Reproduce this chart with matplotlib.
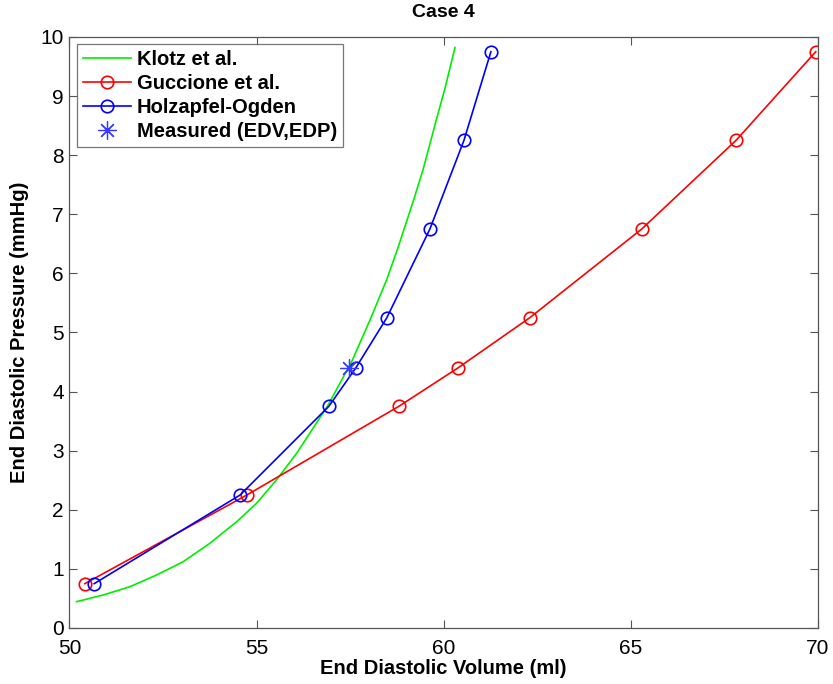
import matplotlib.pyplot as plt
import numpy as np

# Klotz et al. curve
klotz_v = [50.19, 50.90, 51.62, 52.33, 53.04, 53.75, 54.47, 55.00, 55.53, 56.07,
           56.90, 57.55, 58.03, 58.48, 58.77, 59.17, 59.45, 59.82, 60.03, 60.30]
klotz_p = [0.445, 0.558, 0.699, 0.897, 1.122, 1.433, 1.799, 2.110, 2.504, 2.956,
           3.76, 4.52, 5.21, 5.90, 6.42, 7.19, 7.76, 8.64, 9.12, 9.82]

# Guccione et al.
gucc_v = [50.41, 54.74, 58.80, 60.38, 62.30, 65.29, 67.81, 69.94]
gucc_p = [0.75, 2.25, 3.75, 4.40, 5.25, 6.75, 8.25, 9.75]

# Holzapfel-Ogden
holz_v = [50.66, 54.56, 56.93, 57.65, 58.48, 59.63, 60.54, 61.26]
holz_p = [0.75, 2.25, 3.75, 4.40, 5.25, 6.75, 8.25, 9.75]

# measured point
meas_v = [57.47]
meas_p = [4.40]

plt.rcParams['font.family'] = ['Liberation Sans', 'DejaVu Sans']

fig = plt.figure(figsize=(8.33, 6.84), dpi=100)
ax = fig.add_axes([0.0834, 0.0819, 0.8986, 0.8641])

ax.plot(klotz_v, klotz_p, color='#00ee00', lw=1.2, label='Klotz et al.')
ax.plot(gucc_v, gucc_p, color='red', lw=1.2, marker='o', ms=9,
        mfc='none', mew=1.2, label='Guccione et al.')
ax.plot(holz_v, holz_p, color='blue', lw=1.2, marker='o', ms=9,
        mfc='none', mew=1.2, label='Holzapfel-Ogden')
ax.plot(meas_v, meas_p, ls='none', color='#3a3aff', marker=(8, 2, 0), ms=13,
        mew=0.9, label='Measured (EDV,EDP)')

ax.set_xlim(50, 70)
ax.set_ylim(0, 10)
ax.set_xticks(np.arange(50, 71, 5))
ax.set_yticks(np.arange(0, 11, 1))
ax.tick_params(direction='in', length=6, width=0.8, color='#555555',
               labelsize=15, top=True, right=True)
ax.tick_params(axis='x', pad=8)
ax.tick_params(axis='y', pad=4)
for s in ax.spines.values():
    s.set_color('#555555')
    s.set_linewidth(0.9)

ax.set_xlabel('End Diastolic Volume (ml)', fontsize=14.5, fontweight='bold', labelpad=1)
ax.set_ylabel('End Diastolic Pressure (mmHg)', fontsize=14.5, fontweight='bold', labelpad=8)
ax.set_title('Case 4', fontsize=14, fontweight='bold', pad=14)

leg = ax.legend(loc='upper left', prop={'weight': 'bold', 'size': 14.5},
                frameon=True, fancybox=False, edgecolor='#555555',
                handlelength=2.4, handletextpad=0.3, borderpad=0.3,
                labelspacing=0.25, borderaxespad=0.35)
leg.get_frame().set_linewidth(0.9)

fig.savefig('out.png', dpi=100)
